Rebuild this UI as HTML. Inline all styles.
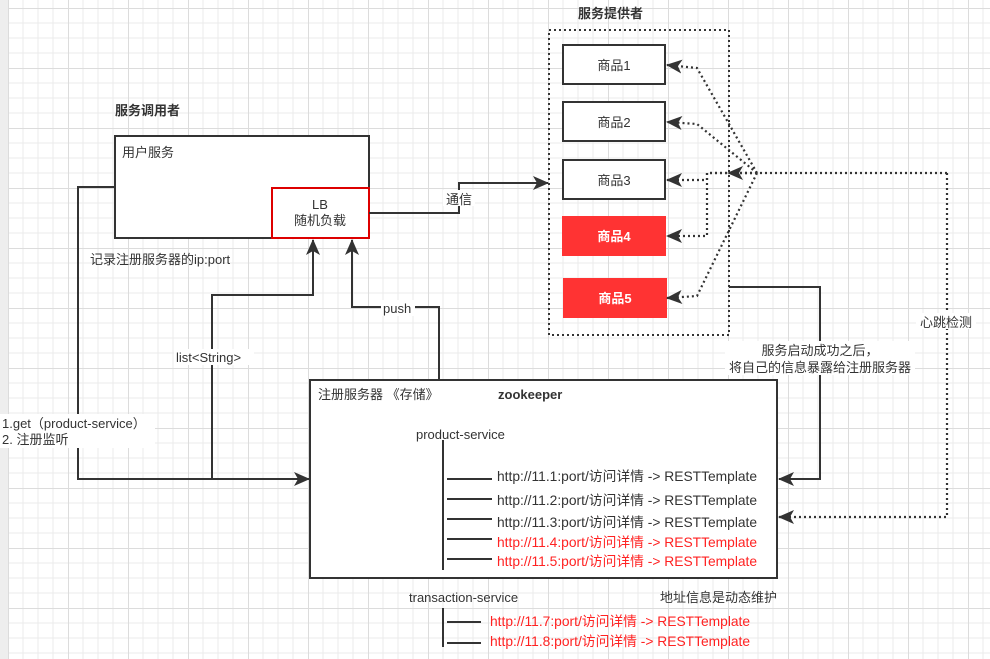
<!DOCTYPE html>
<html><head><meta charset="utf-8"><style>
body{margin:0;width:990px;height:659px;overflow:hidden;background:#fff}
svg{display:block}
text{font-family:"Liberation Sans","Noto Sans CJK SC",sans-serif;font-size:13px;fill:#333}
.u{font-size:13.8px}
</style></head><body>
<svg width="990" height="659" viewBox="0 0 990 659" xmlns="http://www.w3.org/2000/svg">
<defs>
<pattern id="g" x="8" y="8" width="60" height="60" patternUnits="userSpaceOnUse">
<path d="M15 0V60M30 0V60M45 0V60M0 15H60M0 30H60M0 45H60" stroke="#ebebeb" stroke-width="1"/>
<path d="M0.5 0V60M0 0.5H60" stroke="#dcdcdc" stroke-width="1"/>
</pattern>
<marker id="b" markerWidth="16" markerHeight="14" refX="15" refY="7" orient="auto" markerUnits="userSpaceOnUse"><path d="M0 0L16 7L0 14L4 7Z" fill="#333"/></marker>
</defs>
<rect width="990" height="659" fill="url(#g)"/>
<rect x="0" y="0" width="8" height="659" fill="#eeeeee"/>

<text x="115" y="115" style="font-weight:bold">服务调用者</text>
<rect x="115" y="136" width="254" height="102" fill="#fff" stroke="#333" stroke-width="2"/>
<text x="122" y="157">用户服务</text>
<rect x="272" y="188" width="97" height="50" fill="#fff" stroke="#d00" stroke-width="2"/>
<text x="320" y="209" text-anchor="middle">LB</text>
<text x="320" y="225" text-anchor="middle">随机负载</text>
<text x="90" y="264">记录注册服务器的ip:port</text>

<text x="578" y="18" style="font-weight:bold">服务提供者</text>
<rect x="549" y="30" width="180" height="305" fill="none" stroke="#333" stroke-width="2" stroke-dasharray="2,3"/>
<rect x="563" y="45" width="102" height="39" fill="#fff" stroke="#333" stroke-width="2"/>
<text x="614" y="70" text-anchor="middle">商品1</text>
<rect x="563" y="102" width="102" height="39" fill="#fff" stroke="#333" stroke-width="2"/>
<text x="614" y="127" text-anchor="middle">商品2</text>
<rect x="563" y="160" width="102" height="39" fill="#fff" stroke="#333" stroke-width="2"/>
<text x="614" y="185" text-anchor="middle">商品3</text>
<rect x="562" y="216" width="104" height="40" fill="#f33"/>
<text x="614" y="241" text-anchor="middle" style="fill:#fff;font-weight:bold">商品4</text>
<rect x="563" y="278" width="104" height="40" fill="#f33"/>
<text x="615" y="303" text-anchor="middle" style="fill:#fff;font-weight:bold">商品5</text>

<g fill="none" stroke="#333" stroke-width="2.2" stroke-dasharray="2,3">
<path d="M757 173 L697 68 L667 65" marker-end="url(#b)"/>
<path d="M757 173 L697 124 L667 122" marker-end="url(#b)"/>
<path d="M757 173 L707 173 L707 180 L667 180" marker-end="url(#b)"/>
<path d="M757 173 L707 173 L707 236 L667 236" marker-end="url(#b)"/>
<path d="M757 173 L697 296 L667 298" marker-end="url(#b)"/>
<path d="M947 173 L947 517 L779 517" marker-end="url(#b)"/>
<path d="M947 173 L728 173" marker-end="url(#b)"/>
</g>

<g fill="none" stroke="#333" stroke-width="2">
<path d="M115 187 H78 V479 H309" marker-end="url(#b)"/>
<path d="M212 479 V295 H313 V240" marker-end="url(#b)"/>
<path d="M439 379 V307 H352 V240" marker-end="url(#b)"/>
<path d="M369 213 H459 V183 H548" marker-end="url(#b)"/>
<path d="M729 287 H820 V479 H779" marker-end="url(#b)"/>
</g>
<rect x="443" y="190" width="32" height="16" fill="#fff"/>
<text x="459" y="204" text-anchor="middle">通信</text>
<rect x="174" y="349" width="80" height="16" fill="#fff"/>
<text x="176" y="362">list&lt;String&gt;</text>
<rect x="381" y="300" width="34" height="16" fill="#fff"/>
<text x="383" y="313">push</text>
<rect x="0" y="414" width="155" height="34" fill="#fff"/>
<text x="2" y="428">1.get（product-service）</text>
<text x="2" y="444">2. 注册监听</text>
<rect x="725" y="341" width="190" height="34" fill="#fff"/>
<text x="820" y="355" text-anchor="middle">服务启动成功之后，</text>
<text x="820" y="372" text-anchor="middle">将自己的信息暴露给注册服务器</text>
<rect x="916" y="313" width="60" height="16" fill="#fff"/>
<text x="946" y="327" text-anchor="middle">心跳检测</text>

<rect x="310" y="380" width="467" height="198" fill="#fff" stroke="#333" stroke-width="2"/>
<text x="318" y="399">注册服务器  《存储》</text>
<text x="498" y="399" style="font-weight:bold">zookeeper</text>
<text x="416" y="439">product-service</text>
<g stroke="#333" stroke-width="2">
<path d="M443 440 V570"/>
<path d="M447 479 H492 M447 499 H492 M447 519 H492 M447 539 H492 M447 559 H492"/>
<path d="M443 608 V647"/>
<path d="M447 622 H481 M447 643 H481"/>
</g>
<text class="u" x="497" y="481">http://11.1:port/访问详情 -&gt; RESTTemplate</text>
<text class="u" x="497" y="505">http://11.2:port/访问详情 -&gt; RESTTemplate</text>
<text class="u" x="497" y="527">http://11.3:port/访问详情 -&gt; RESTTemplate</text>
<text class="u" x="497" y="547" style="fill:#f22">http://11.4:port/访问详情 -&gt; RESTTemplate</text>
<text class="u" x="497" y="566" style="fill:#f22">http://11.5:port/访问详情 -&gt; RESTTemplate</text>
<text x="409" y="602">transaction-service</text>
<text x="660" y="602">地址信息是动态维护</text>
<text class="u" x="490" y="626" style="fill:#f22">http://11.7:port/访问详情 -&gt; RESTTemplate</text>
<text class="u" x="490" y="646" style="fill:#f22">http://11.8:port/访问详情 -&gt; RESTTemplate</text>
</svg>
</body></html>
